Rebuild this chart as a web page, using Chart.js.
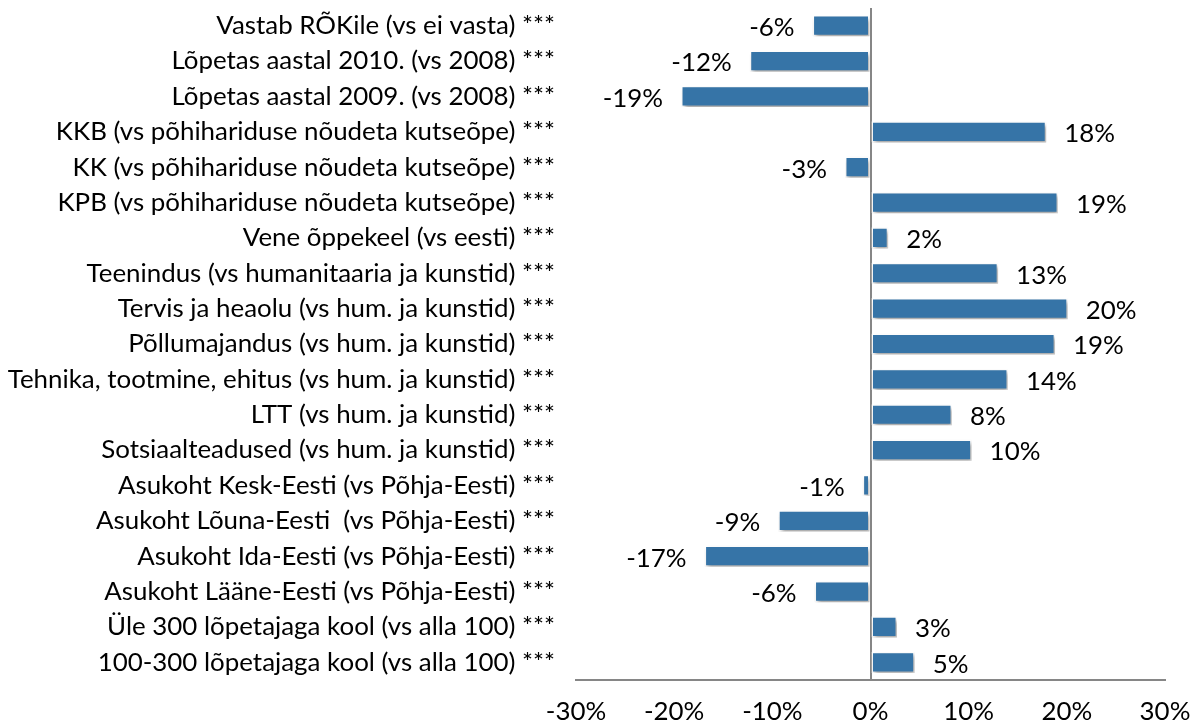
<!DOCTYPE html>
<html>
<head>
<meta charset="utf-8">
<script src="https://cdn.jsdelivr.net/npm/chart.js@4.4.1/dist/chart.umd.min.js"></script>
<style>
  html, body { margin: 0; padding: 0; background: #fff; }
  #wrap { width: 1197px; height: 724px; position: relative; }
</style>
</head>
<body>
<div id="wrap"><canvas id="chart"></canvas></div>
<script>
// Categories (top to bottom)
const categories = [
  "Vastab RÕKile (vs ei vasta) ***",
  "Lõpetas aastal 2010. (vs 2008) ***",
  "Lõpetas aastal 2009. (vs 2008) ***",
  "KKB (vs põhihariduse nõudeta kutseõpe) ***",
  "KK (vs põhihariduse nõudeta kutseõpe) ***",
  "KPB (vs põhihariduse nõudeta kutseõpe) ***",
  "Vene õppekeel (vs eesti) ***",
  "Teenindus (vs humanitaaria ja kunstid) ***",
  "Tervis ja heaolu (vs hum. ja kunstid) ***",
  "Põllumajandus (vs hum. ja kunstid) ***",
  "Tehnika, tootmine, ehitus (vs hum. ja kunstid) ***",
  "LTT (vs hum. ja kunstid) ***",
  "Sotsiaalteadused (vs hum. ja kunstid) ***",
  "Asukoht Kesk-Eesti (vs Põhja-Eesti) ***",
  "Asukoht Lõuna-Eesti  (vs Põhja-Eesti) ***",
  "Asukoht Ida-Eesti (vs Põhja-Eesti) ***",
  "Asukoht Lääne-Eesti (vs Põhja-Eesti) ***",
  "Üle 300 lõpetajaga kool (vs alla 100) ***",
  "100-300 lõpetajaga kool (vs alla 100) ***"
];

// Effect in percent
const values = [
  -5.9, -12.3, -19.3, 17.9, -2.6, 19.1, 1.8, 13.0, 20.1, 18.8,
  14.0, 8.3, 10.3, -0.8, -9.4, -16.9, -5.7, 2.7, 4.5
];

// x axis ticks
const tickValues = [-30, -20, -10, 0, 10, 20, 30];
const tickLabels = ["-30%", "-20%", "-10%", "0%", "10%", "20%", "30%"];

const FONT = "Lato, 'Liberation Sans', sans-serif";
const BAR = "#3674a7";
const AXIS = "#868686";

// size the font so the longest label fits the space left of the plot
const m = document.createElement("canvas").getContext("2d");
m.font = "100px " + FONT;
let widest = 0;
categories.forEach(c => { widest = Math.max(widest, m.measureText(c).width); });
const fontSize = Math.round(547 / widest * 1000) / 10;

Chart.defaults.font.family = FONT;
Chart.defaults.font.size = fontSize;
Chart.defaults.color = "#000";

const shadowPlugin = {
  id: "barShadow",
  beforeDatasetsDraw(chart) {
    const ctx = chart.ctx;
    ctx.save();
    ctx.shadowColor = "rgba(0,0,0,0.35)";
    ctx.shadowBlur = 4;
    ctx.shadowOffsetX = 2;
    ctx.shadowOffsetY = 3;
  },
  afterDatasetsDraw(chart) {
    chart.ctx.restore();
  }
};

const valueLabels = {
  id: "valueLabels",
  afterDatasetsDraw(chart) {
    const ctx = chart.ctx;
    const meta = chart.getDatasetMeta(0);
    ctx.save();
    ctx.font = fontSize + "px " + FONT;
    ctx.fillStyle = "#000";
    ctx.textBaseline = "middle";
    meta.data.forEach((bar, i) => {
      const v = values[i];
      const txt = Math.round(v) + "%";
      if (v >= 0) {
        ctx.textAlign = "left";
        ctx.fillText(txt, bar.x + 18, bar.y + 2);
      } else {
        ctx.textAlign = "right";
        ctx.fillText(txt, bar.x - 18, bar.y + 2);
      }
    });
    ctx.restore();
  }
};

new Chart(document.getElementById("chart"), {
  type: "bar",
  data: {
    labels: categories,
    datasets: [{
      data: values,
      backgroundColor: BAR,
      borderColor: "#fff",
      borderWidth: 1.5,
      borderSkipped: false,
      categoryPercentage: 1,
      barPercentage: 0.6
    }]
  },
  options: {
    indexAxis: "y",
    responsive: true,
    maintainAspectRatio: false,
    animation: false,
    layout: { padding: { top: 8, right: 32, left: 0, bottom: 0 } },
    plugins: {
      legend: { display: false },
      tooltip: { enabled: false }
    },
    scales: {
      x: {
        min: -30,
        max: 30,
        afterBuildTicks: s => { s.ticks = tickValues.map(v => ({ value: v })); },
        afterFit: s => {
          s.height = 44;
          s.paddingLeft = 0; s.paddingRight = 0;
        },
        ticks: {
          padding: 16,
          maxRotation: 0,
          callback: (v, i) => tickLabels[i]
        },
        grid: {
          drawTicks: false,
          lineWidth: 2,
          color: c => (c.tick && c.tick.value === 0 ? AXIS : "transparent")
        },
        border: { display: true, color: AXIS, width: 2 }
      },
      y: {
        afterFit: s => {
          s.width = 576;
          s.paddingTop = 0; s.paddingBottom = 0;
        },
        ticks: { padding: 21, autoSkip: false },
        grid: { display: false, drawTicks: false },
        border: { display: false }
      }
    }
  },
  plugins: [shadowPlugin, valueLabels]
});
</script>
</body>
</html>
